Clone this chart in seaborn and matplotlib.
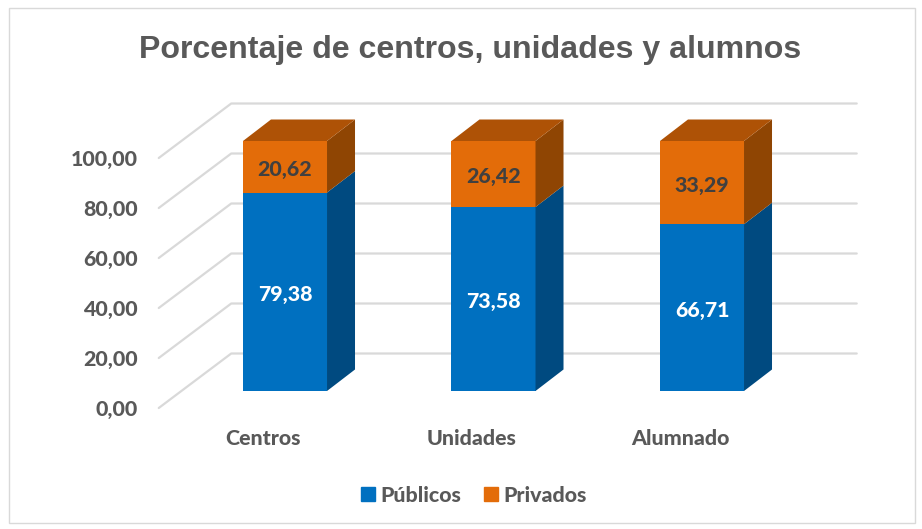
import pandas as pd
import numpy as np
import seaborn as sns
import matplotlib.pyplot as plt
from matplotlib.patches import Polygon, Rectangle, Patch

categorias = ['Centros', 'Unidades', 'Alumnado']
publicos = [79.38, 73.58, 66.71]
privados = [20.62, 26.42, 33.29]
ticks = [0, 20, 40, 60, 80, 100]

W, H = 922, 529
df = pd.DataFrame({'cat': categorias, 'Públicos': publicos, 'Privados': privados})

sns.set_theme(style='white')
plt.rcParams['font.family'] = ['Lato', 'DejaVu Sans']

AZUL, AZUL_L = '#0070C0', '#004A80'
NAR, NAR_L, NAR_T = '#E36C09', '#8F4503', '#AE5206'
GRIS = '#595959'
PESO = 900
TAM = 15.4


def axes_px(fig, left, right, top, bottom):
    return fig.add_axes([left / W, 1 - bottom / H, (right - left) / W, (bottom - top) / H])


fig = plt.figure(figsize=(W / 100, H / 100), dpi=100)
fig.patch.set_facecolor('white')

# marco del grafico
fig.add_artist(Rectangle((9 / W, 1 - 523 / H), 906 / W, 515 / H, transform=fig.transFigure,
                         fill=False, ec='#D9D9D9', lw=1))
fig.text(470 / W, 1 - 50 / H, 'Porcentaje de centros, unidades y alumnos', ha='center', va='center',
         fontsize=23.1, fontweight='bold', color=GRIS, family='Liberation Sans')

# plano frontal: ejes y lineas de la pared
ax0 = axes_px(fig, 158.75, 784.25, 158, 408)
ax0.set_xlim(-0.5, 2.5)
ax0.set_ylim(0, 100)
ax0.set_xticks(range(3))
ax0.set_xticklabels(categorias, fontsize=TAM, fontweight=PESO, color=GRIS)
ax0.set_yticks(ticks)
ax0.set_yticklabels([f'{t:.2f}'.replace('.', ',') for t in ticks], fontsize=TAM, fontweight=PESO, color=GRIS)
ax0.tick_params(axis='x', length=0, pad=15)
ax0.tick_params(axis='y', length=0, pad=15)
sns.despine(ax=ax0, left=True, bottom=True)
ax0.patch.set_alpha(0)

dx0 = 72.5 / 208.5
dy0 = 54.5 / 2.5
for t in ticks:
    ax0.plot([-0.5, -0.5 + dx0, 2.5 + dx0], [t, t + dy0, t + dy0], color='#D9D9D9', lw=1.6, clip_on=False)

# barras
ax = axes_px(fig, 180.75, 806.25, 141, 391)
ax.patch.set_alpha(0)
sns.barplot(data=df, x='cat', y='Públicos', color=AZUL, width=0.403, saturation=1, linewidth=0, ax=ax)
sns.barplot(data=df, x='cat', y='Privados', bottom=df['Públicos'], color=NAR, width=0.403, saturation=1, linewidth=0, ax=ax)
ax.set_xlim(-0.5, 2.5)
ax.set_ylim(0, 100)
ax.axis('off')

dx = 28 / 208.5
dy = 21.5 / 2.5
for i, (pu, pr) in enumerate(zip(publicos, privados)):
    x1 = i + 0.2015
    x0 = i - 0.2015
    ax.add_patch(Polygon([[x1, 0], [x1 + dx, dy], [x1 + dx, pu + dy], [x1, pu]], fc=AZUL_L, ec='none', clip_on=False))
    ax.add_patch(Polygon([[x1, pu], [x1 + dx, pu + dy], [x1 + dx, 100 + dy], [x1, 100]], fc=NAR_L, ec='none', clip_on=False))
    ax.add_patch(Polygon([[x0, 100], [x0 + dx, 100 + dy], [x1 + dx, 100 + dy], [x1, 100]], fc=NAR_T, ec='none', clip_on=False))

fmt = lambda v: f'{v:.2f}'.replace('.', ',')
for c, vals, col in [(ax.containers[0], publicos, 'white'), (ax.containers[1], privados, '#404040')]:
    for t in ax.bar_label(c, labels=[fmt(v) for v in vals], label_type='center',
                          color=col, fontsize=TAM, fontweight=PESO):
        t.set_y(-2)

fig.legend(handles=[Patch(color=AZUL, label='Públicos'), Patch(color=NAR, label='Privados')],
           loc='center', bbox_to_anchor=(474 / W, 1 - 495 / H), ncol=2, frameon=False,
           handlelength=0.65, handleheight=0.65, handletextpad=0.28, columnspacing=1.03,
           prop={'size': TAM, 'weight': PESO}, labelcolor=GRIS)

fig.savefig('out.png', dpi=100)
